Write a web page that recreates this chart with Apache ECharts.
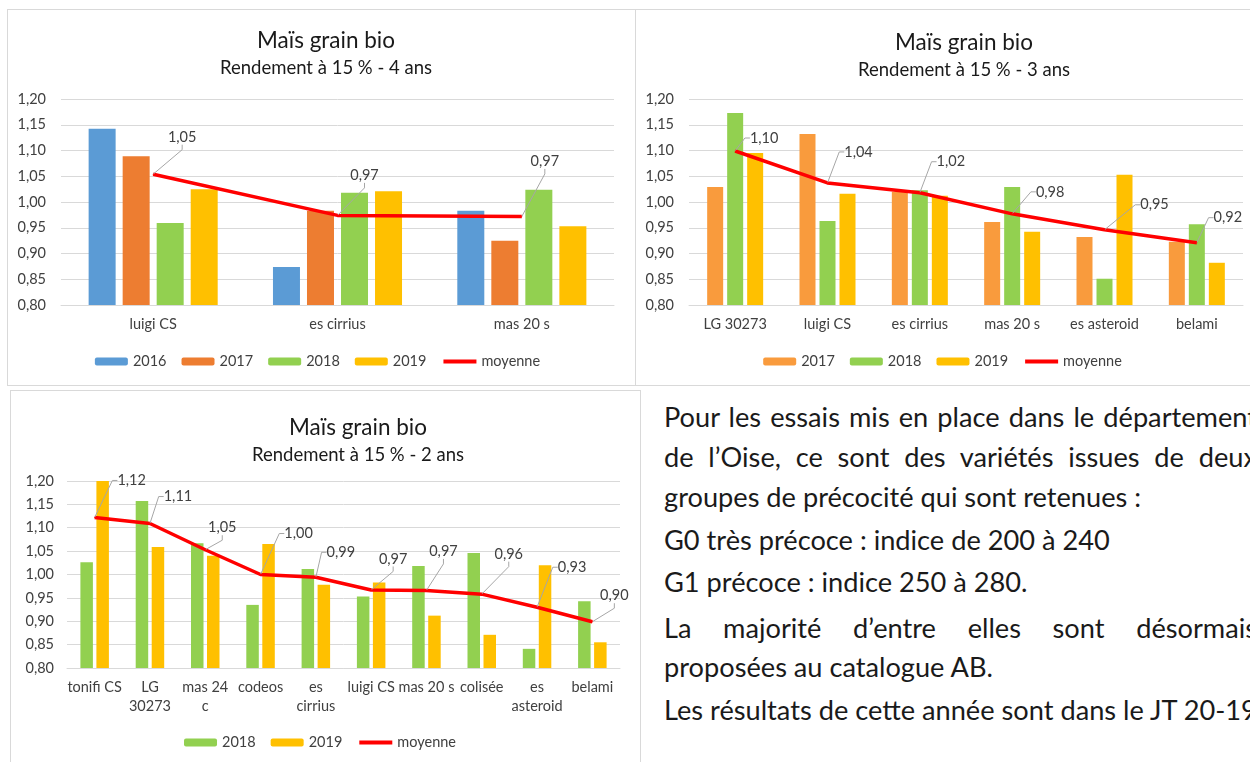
<!DOCTYPE html>
<html><head><meta charset="utf-8">
<script src="https://cdn.jsdelivr.net/npm/echarts@6/dist/echarts.min.js"></script>
<style>
html,body{margin:0;padding:0;width:1250px;height:762px;overflow:hidden;background:#fff;}
.c{position:absolute;}
.b{position:absolute;border:1px solid #d9d9d9;box-sizing:border-box;pointer-events:none;}
#txt{position:absolute;left:664px;top:0;width:593px;font-family:Lato,"Noto Sans",sans-serif;font-size:27.2px;color:#1a1a1a;}
#txt div{position:absolute;left:0;white-space:nowrap;line-height:30px;}
#txt div.j{width:593px;text-align:justify;text-align-last:justify;}
</style></head>
<body>
<div class="b" style="left:7px;top:9px;width:629px;height:377px;"></div>
<div class="b" style="left:635px;top:9px;width:630px;height:377px;"></div>
<div class="b" style="left:10px;top:390px;width:631px;height:380px;"></div>
<div id="c1" class="c" style="left:0;top:0;width:635px;height:386px;"></div>
<div id="c2" class="c" style="left:635px;top:0;width:615px;height:386px;"></div>
<div id="c3" class="c" style="left:0;top:386px;width:640px;height:376px;"></div>
<div id="txt">
<div class="j" style="top:402px;">Pour les essais mis en place dans le département</div>
<div class="j" style="top:442px;">de l’Oise, ce sont des variétés issues de deux</div>
<div style="top:482px;">groupes de précocité qui sont retenues :</div>
<div style="top:525px;">G0 très précoce : indice de 200 à 240</div>
<div style="top:567px;">G1 précoce : indice 250 à 280.</div>
<div class="j" style="top:613px;">La majorité d’entre elles sont désormais</div>
<div style="top:652px;">proposées au catalogue AB.</div>
<div style="top:695px;">Les résultats de cette année sont dans le JT 20-19</div>
</div>
<script>
// ---- data ----
const title = 'Maïs grain bio';
const sub4 = 'Rendement à 15 % - 4 ans';
const sub3 = 'Rendement à 15 % - 3 ans';
const sub2 = 'Rendement à 15 % - 2 ans';
const yTicks = [0.80, 0.85, 0.90, 0.95, 1.00, 1.05, 1.10, 1.15, 1.20];

const cats4 = ['luigi CS', 'es cirrius', 'mas 20 s'];
const v4_2016 = [1.142, 0.874, 0.983];
const v4_2017 = [1.089, 0.983, 0.925];
const v4_2018 = [0.959, 1.018, 1.024];
const v4_2019 = [1.025, 1.021, 0.953];
const v4_moy  = [1.054, 0.974, 0.972];

const cats3 = ['LG 30273', 'luigi CS', 'es cirrius', 'mas 20 s', 'es asteroid', 'belami'];
const v3_2017 = [1.029, 1.132, 1.020, 0.961, 0.932, 0.923];
const v3_2018 = [1.173, 0.963, 1.023, 1.029, 0.851, 0.957];
const v3_2019 = [1.095, 1.016, 1.012, 0.942, 1.053, 0.882];
const v3_moy  = [1.099, 1.037, 1.018, 0.977, 0.946, 0.921];

const cats2 = ['tonifi CS', 'LG\n30273', 'mas 24\nc', 'codeos', 'es\ncirrius', 'luigi CS', 'mas 20 s', 'colisée', 'es\nasteroid', 'belami'];
const v2_2018 = [1.026, 1.157, 1.067, 0.935, 1.012, 0.953, 1.018, 1.046, 0.841, 0.943];
const v2_2019 = [1.218, 1.059, 1.040, 1.065, 0.978, 0.983, 0.912, 0.871, 1.020, 0.855];
const v2_moy  = [1.122, 1.109, 1.053, 1.000, 0.994, 0.967, 0.966, 0.958, 0.930, 0.899];

// ---- label offsets (style) ----
const off4 = [[29,-37],[27,-40],[23,-55]];
const off3 = [[29,-13],[31,-31],[31,-31],[38,-22],[50,-25],[31,-25]];
const off2 = [[37,-37],[28,-27],[17,-22],[38,-41],[25,-25],[22,-31],[17,-39],[27,-40],[35,-40],[22,-26]];

const FONT = 'Lato, "Noto Sans", sans-serif';
const FS = 14.5;
const fmt = v => v.toFixed(2).replace('.', ',');

function build(el, cfg) {
  const ch = echarts.init(document.getElementById(el), null, {renderer: 'canvas'});
  const series = cfg.bars.map(b => ({
    name: b.name, type: 'bar', data: b.data, barWidth: cfg.barWidth, barGap: cfg.barGap,
    itemStyle: {color: b.color}, clip: true
  }));
  series.push({
    name: 'moyenne', type: 'line', data: cfg.moy, symbol: 'circle', symbolSize: 1, showSymbol: true,
    itemStyle: {color: '#ff0000'}, lineStyle: {color: '#ff0000', width: 3.5}, z: 5,
    label: {show: true, position: 'inside', formatter: p => fmt(p.value), fontFamily: FONT, fontSize: FS, color: '#404040'},
    labelLayout: p => ({dx: cfg.off[p.dataIndex][0], dy: cfg.off[p.dataIndex][1]}),
    labelLine: {show: true, length2: 5, lineStyle: {color: '#a6a6a6', width: 1}}
  });
  const legendData = cfg.bars.map(b => b.name);
  legendData.push({name: 'moyenne', itemStyle: {opacity: 0}, lineStyle: {width: 4}});
  ch.setOption({
    animation: false,
    textStyle: {fontFamily: FONT},
    title: {text: title, subtext: cfg.sub, left: cfg.titleX, textAlign: 'center', top: cfg.titleTop, itemGap: 3,
      textStyle: {fontFamily: FONT, fontSize: 22.5, lineHeight: 26, fontWeight: 'normal', color: '#1a1a1a'},
      subtextStyle: {fontFamily: FONT, fontSize: 18.5, lineHeight: 22, color: '#1a1a1a'}},
    legend: {data: legendData, top: cfg.legendTop, left: 'center', padding: cfg.legendPad, itemWidth: 33, itemHeight: 8, itemGap: 15,
      textStyle: {fontFamily: FONT, fontSize: FS, color: '#404040'}},
    grid: cfg.grid,
    xAxis: {type: 'category', data: cfg.cats, axisTick: {show: false},
      axisLine: {lineStyle: {color: '#d9d9d9'}},
      axisLabel: {fontFamily: FONT, fontSize: FS, color: '#404040', margin: 10, interval: 0, lineHeight: 19}},
    yAxis: {type: 'value', min: yTicks[0], max: yTicks[yTicks.length - 1], interval: 0.05,
      axisLine: {show: false}, axisTick: {show: false},
      splitLine: {lineStyle: {color: '#d9d9d9'}},
      axisLabel: {fontFamily: FONT, fontSize: FS, color: '#404040', formatter: fmt, margin: cfg.yMargin}},
    series: series
  });
}

build('c1', {
  cats: cats4, sub: sub4, moy: v4_moy, off: off4, barWidth: 27, barGap: '26%',
  bars: [
    {name: '2016', data: v4_2016, color: '#5b9bd5'},
    {name: '2017', data: v4_2017, color: '#ed7d31'},
    {name: '2018', data: v4_2018, color: '#92d050'},
    {name: '2019', data: v4_2019, color: '#ffc000'}],
  grid: {left: 61, right: 21, top: 99, bottom: 81},
  titleX: 321, titleTop: 23, legendTop: 354, legendPad: [0, 0, 0, 25], yMargin: 15
});
build('c2', {
  cats: cats3, sub: sub3, moy: v3_moy, off: off3, barWidth: 16, barGap: '25%',
  bars: [
    {name: '2017', data: v3_2017, color: '#f99b3d'},
    {name: '2018', data: v3_2018, color: '#92d050'},
    {name: '2019', data: v3_2019, color: '#ffc000'}],
  grid: {left: 54, right: 7, top: 99, bottom: 81},
  titleX: 324, titleTop: 25, legendTop: 354, legendPad: [0, 0, 0, 39], yMargin: 15
});
build('c3', {
  cats: cats2, sub: sub2, moy: v2_moy, off: off2, barWidth: 12.5, barGap: '28%',
  bars: [
    {name: '2018', data: v2_2018, color: '#92d050'},
    {name: '2019', data: v2_2019, color: '#ffc000'}],
  grid: {left: 67, right: 20, top: 95, bottom: 94},
  titleX: 353, titleTop: 24, legendTop: 349, legendPad: [0, 0, 0, 40], yMargin: 13
});
</script>
</body></html>
